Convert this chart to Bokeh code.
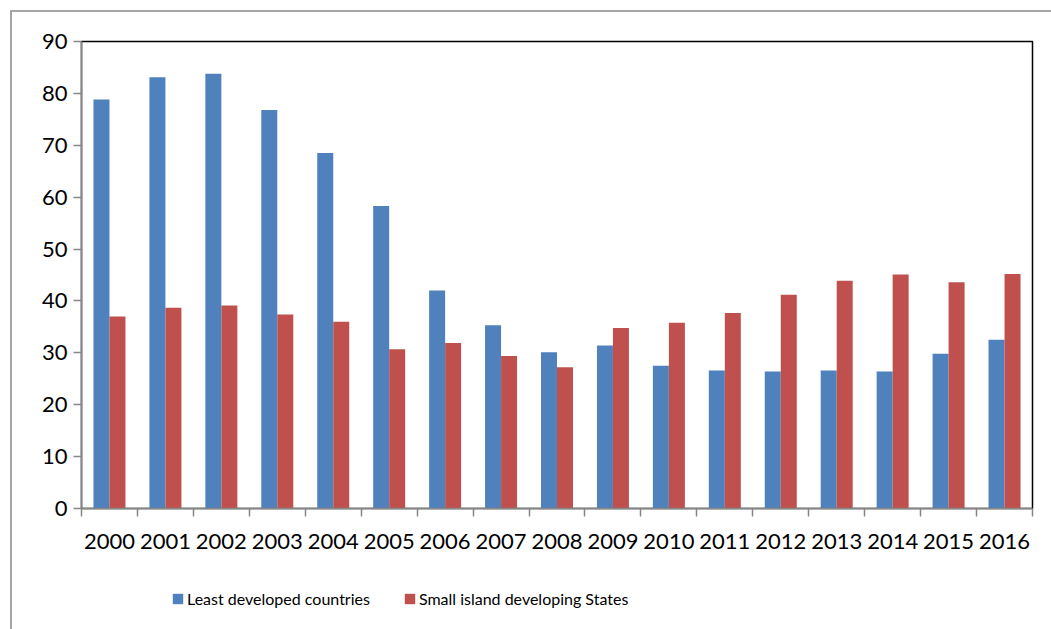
import numpy as np
from bokeh.plotting import figure
from bokeh.layouts import column
from bokeh.models import (Range1d, FixedTicker, Legend, LegendItem, ColumnDataSource, LinearAxis)
from bokeh.embed import file_html
from bokeh.resources import INLINE

years = ["2000", "2001", "2002", "2003", "2004", "2005", "2006", "2007", "2008",
         "2009", "2010", "2011", "2012", "2013", "2014", "2015", "2016"]
ldc = [78.8, 83.1, 83.8, 76.8, 68.5, 58.3, 42.0, 35.3, 30.1, 31.4, 27.5, 26.6, 26.4,
       26.6, 26.4, 29.8, 32.5]
sids = [37.0, 38.7, 39.1, 37.4, 36.0, 30.7, 31.9, 29.4, 27.2, 34.8, 35.8, 37.7, 41.2,
        43.9, 45.1, 43.6, 45.2]
series_names = ["Least developed countries", "Small island developing States"]

FONT = "Lato"
BLUE = "#4F81BD"
RED = "#C0504D"
GRAY = "#868686"

n = len(years)
centers = np.arange(n) + 0.5
bw = 0.286

src = ColumnDataSource(dict(x_l=centers - bw / 2, x_r=centers + bw / 2,
                            ldc=ldc, sids=sids))

p = figure(width=1039, height=563, output_backend="svg", toolbar_location=None,
           x_range=Range1d(0, n), y_range=Range1d(0, 90),
           min_border_left=69, min_border_right=19, min_border_top=29,
           min_border_bottom=67, x_axis_location=None, y_axis_location=None)

r1 = p.vbar(x="x_l", top="ldc", width=bw, bottom=0, source=src,
            fill_color=BLUE, line_color=None)
r2 = p.vbar(x="x_r", top="sids", width=bw, bottom=0, source=src,
            fill_color=RED, line_color=None)

p.xgrid.visible = False
p.ygrid.visible = False
p.outline_line_color = "black"
p.outline_line_width = 1.5
p.background_fill_color = "white"

yax = LinearAxis(ticker=FixedTicker(ticks=list(range(0, 91, 10))))
yax.axis_line_color = GRAY
yax.axis_line_width = 1.5
yax.major_tick_line_color = GRAY
yax.major_tick_line_width = 1.5
yax.major_tick_out = 8
yax.major_tick_in = 0
yax.minor_tick_line_color = None
yax.major_label_text_font = FONT
yax.major_label_text_font_size = "22px"
yax.major_label_text_color = "black"
yax.major_label_standoff = 6
p.add_layout(yax, "left")

xax = LinearAxis(ticker=FixedTicker(ticks=list(centers), minor_ticks=list(range(0, n + 1))))
xax.major_label_overrides = {float(c): y for c, y in zip(centers, years)}
xax.axis_line_color = GRAY
xax.axis_line_width = 1.5
xax.major_tick_line_color = None
xax.major_tick_out = 0
xax.major_tick_in = 0
xax.minor_tick_line_color = GRAY
xax.minor_tick_line_width = 1.5
xax.minor_tick_out = 8
xax.minor_tick_in = 0
xax.major_label_text_font = FONT
xax.major_label_text_font_size = "22px"
xax.major_label_text_color = "black"
xax.major_label_standoff = 17
p.add_layout(xax, "below")

# legend strip below the chart (series drawn far out of view, only their legend shows)
lg = figure(width=1039, height=54, output_backend="svg", toolbar_location=None,
            x_range=Range1d(0, n), y_range=Range1d(1000, 1001),
            min_border_left=0, min_border_right=0, min_border_top=0, min_border_bottom=0,
            x_axis_location=None, y_axis_location=None)
lg.xgrid.visible = False
lg.ygrid.visible = False
lg.outline_line_color = None
d1 = lg.vbar(x="x_l", top="ldc", width=bw, bottom=0, source=src,
             fill_color=BLUE, line_color=None)
d2 = lg.vbar(x="x_r", top="sids", width=bw, bottom=0, source=src,
             fill_color=RED, line_color=None)

legend = Legend(items=[LegendItem(label=series_names[0], renderers=[d1]),
                       LegendItem(label=series_names[1], renderers=[d2])],
                orientation="horizontal", location=(90, 21),
                label_text_font=FONT, label_text_font_size="16px", label_text_color="black",
                glyph_width=13, glyph_height=13, label_standoff=3, spacing=33,
                border_line_color=None, background_fill_alpha=0, margin=0, padding=4)
lg.add_layout(legend)

layout = column(p, lg, spacing=0)
layout.styles = {"border-left": "2px solid #a6a6a6", "border-top": "2px solid #a6a6a6",
                 "margin-left": "10px", "margin-top": "10px"}

open("out.html", "w").write(file_html(layout, INLINE))
